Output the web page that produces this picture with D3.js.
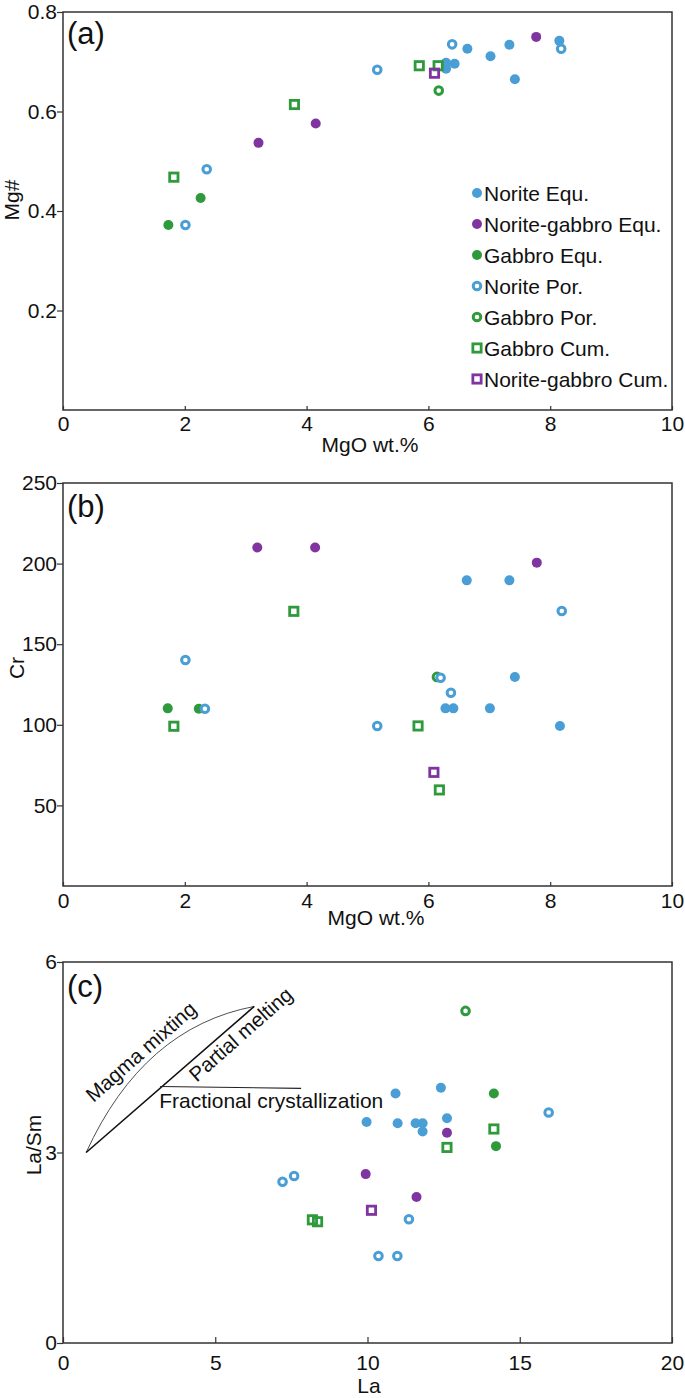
<!DOCTYPE html>
<html><head><meta charset="utf-8">
<script src="https://cdn.jsdelivr.net/npm/d3@7"></script>
<style>
body{margin:0;background:#fff}
svg{display:block}
text{font-family:"Liberation Sans",Arial,Helvetica,sans-serif;fill:#111}
</style>
</head><body>
<svg id="chart" width="685" height="1398"></svg>
<script>
// ---------- data ----------
const groupNames = ["Norite Equ.","Norite-gabbro Equ.","Gabbro Equ.","Norite Por.","Gabbro Por.","Gabbro Cum.","Norite-gabbro Cum."];
const groupKeys  = ["NE","NGE","GE","NP","GP","GC","NGC"];
const drawOrder  = ["GE","NGE","NE","GP","NP","GC","NGC"];

const mgoTicks  = [0,2,4,6,8,10];
const mgTicks   = [0.2,0.4,0.6,0.8];
const crTicks   = [50,100,150,200,250];
const laTicks   = [0,5,10,15,20];
const laSmTicks = [0,3,6];

// (a) MgO wt.% vs Mg#
const panelA = [
  ["NE",6.29,0.698],["NE",6.29,0.686],["NE",6.43,0.696],["NE",6.64,0.726],["NE",7.02,0.711],
  ["NE",7.33,0.734],["NE",7.42,0.665],["NE",8.15,0.742],
  ["NGE",3.21,0.537],["NGE",4.15,0.576],["NGE",7.77,0.750],
  ["GE",1.73,0.372],["GE",2.26,0.426],
  ["NP",2.01,0.372],["NP",2.36,0.484],["NP",5.16,0.684],["NP",6.39,0.735],["NP",8.18,0.726],
  ["GP",6.17,0.642],
  ["GC",1.82,0.468],["GC",3.80,0.614],["GC",5.85,0.692],["GC",6.16,0.692],
  ["NGC",6.10,0.677]
];
// (b) MgO wt.% vs Cr
const panelB = [
  ["NE",6.63,189.6],["NE",7.33,189.6],["NE",7.42,129.7],["NE",6.28,110.2],["NE",6.41,110.2],
  ["NE",7.01,110.2],["NE",8.16,99.3],
  ["NGE",3.19,210],["NGE",4.14,210],["NGE",7.78,200.6],
  ["GE",1.72,110.2],["GE",2.23,110.0],
  ["NP",2.01,140.2],["NP",2.33,110.0],["NP",5.16,99.3],["NP",6.20,129.2],["NP",6.37,119.9],["NP",8.19,170.6],
  ["GP",6.14,129.7],
  ["GC",1.82,99.1],["GC",3.79,170.4],["GC",5.83,99.3],["GC",6.18,59.6],
  ["NGC",6.09,70.5]
];
// (c) La vs La/Sm
const panelC = [
  ["NE",12.41,4.02],["NE",10.92,3.93],["NE",9.97,3.48],["NE",10.99,3.46],["NE",11.58,3.46],
  ["NE",11.81,3.46],["NE",11.81,3.33],["NE",12.61,3.54],
  ["NGE",12.61,3.31],["NGE",9.94,2.66],["NGE",11.61,2.30],
  ["GE",14.15,3.93],["GE",14.22,3.10],
  ["NP",15.95,3.63],["NP",7.21,2.54],["NP",7.59,2.63],["NP",11.36,1.95],["NP",10.36,1.37],["NP",10.98,1.37],
  ["GP",13.22,5.23],
  ["GC",14.15,3.37],["GC",12.61,3.08],["GC",8.19,1.94],["GC",8.36,1.91],
  ["NGC",10.13,2.09]
];
// (c) trend annotations in data units (La, La/Sm)
const mixingCurve = [[0.76,3.0],[2.64,4.97],[6.28,5.30]]; // start, control, end
const meltingLine = [[0.76,3.0],[6.28,5.30]];
const fractLine   = [[3.19,4.04],[7.82,4.01]];
const trendLabels = [
  {text:"Magma mixting", at:[1.00,3.78], angle:-41.4},
  {text:"Partial melting", at:[4.39,4.10], angle:-41.5},
  {text:"Fractional crystallization", at:[3.16,3.70], angle:0}
];

// ---------- styles ----------
const style = {
  NE:{color:"#4A9ED6",shape:"dot"},
  NGE:{color:"#8034A0",shape:"dot"},
  GE:{color:"#2E9A3C",shape:"dot"},
  NP:{color:"#4A9ED6",shape:"ring"},
  GP:{color:"#2E9A3C",shape:"ring"},
  GC:{color:"#2E9A3C",shape:"square"},
  NGC:{color:"#8034A0",shape:"square"}
};
const axisColor = "#333";
const L = 63, R = 672;
const svg = d3.select("#chart");

function drawMarker(g, key, cx, cy){
  const s = style[key];
  if (s.shape === "dot") {
    g.append("circle").attr("cx",cx).attr("cy",cy).attr("r",5).attr("fill",s.color);
  } else if (s.shape === "ring") {
    g.append("circle").attr("cx",cx).attr("cy",cy).attr("r",3.8)
      .attr("fill","#fff").attr("stroke",s.color).attr("stroke-width",3);
  } else {
    const a = 8.3;
    g.append("rect").attr("x",cx-a/2).attr("y",cy-a/2).attr("width",a).attr("height",a)
      .attr("fill","none").attr("stroke",s.color).attr("stroke-width",2.8);
  }
}

function panel(cfg){
  const x = d3.scaleLinear().domain(cfg.xDomain).range([L,R]);
  const y = d3.scaleLinear().domain(cfg.yDomain).range([cfg.bottom,cfg.top]);
  const g = svg.append("g");

  // x axis (ticks inward)
  const xa = g.append("g").attr("transform",`translate(0,${cfg.bottom})`)
    .call(d3.axisBottom(x).tickValues(cfg.xTicks).tickSize(-cfg.xTickLen).tickSizeOuter(0)
      .tickPadding(cfg.xPad).tickFormat(d3.format("d")));
  xa.select(".domain").remove();
  xa.selectAll("line").attr("stroke",axisColor).attr("stroke-width",1.2);
  xa.selectAll("text").attr("font-size",21).attr("fill","#111")
    .attr("font-family",'"Liberation Sans",Arial,sans-serif');

  // y axis (ticks outward)
  const ya = g.append("g").attr("transform",`translate(${L},0)`)
    .call(d3.axisLeft(y).tickValues(cfg.yTicks).tickSize(6).tickSizeOuter(0)
      .tickPadding(0).tickFormat(cfg.yFormat));
  ya.select(".domain").remove();
  ya.selectAll("line").attr("stroke",axisColor).attr("stroke-width",1.2);
  ya.selectAll("text").attr("font-size",21).attr("fill","#111")
    .attr("font-family",'"Liberation Sans",Arial,sans-serif');

  // frame
  g.append("rect").attr("x",L).attr("y",cfg.top).attr("width",R-L).attr("height",cfg.bottom-cfg.top)
    .attr("fill","none").attr("stroke",axisColor).attr("stroke-width",1.5);

  // labels
  g.append("text").attr("x",67).attr("y",cfg.top+cfg.tagOff).attr("font-size",31).text(cfg.tag);
  g.append("text").attr("x",cfg.xLabelX).attr("y",cfg.xLabelY).attr("text-anchor","middle")
    .attr("font-size",21).text(cfg.xLabel);
  g.append("text").attr("transform",`translate(${cfg.yLabelX},${cfg.yLabelY}) rotate(-90)`)
    .attr("text-anchor","middle").attr("font-size",21).text(cfg.yLabel);

  // points
  const pg = g.append("g");
  drawOrder.forEach(k=>{
    cfg.data.filter(d=>d[0]===k).forEach(d=>drawMarker(pg,k,x(d[1]),y(d[2])));
  });
  return {g,x,y};
}

// (a)
const pa = panel({top:12,bottom:410,xDomain:[0,10],yDomain:[0,0.8],xTicks:mgoTicks,yTicks:mgTicks,
  yFormat:d3.format(".1f"),xTickLen:4,xPad:6,tag:"(a)",tagOff:32,
  xLabel:"MgO wt.%",xLabelX:370,xLabelY:452,yLabel:"Mg#",yLabelX:19,yLabelY:200,data:panelA});

// legend
const lg = pa.g.append("g");
groupKeys.forEach((k,i)=>{
  const cy = 193 + i*31;
  drawMarker(lg,k,477,cy);
  lg.append("text").attr("x",484).attr("y",cy+7.5).attr("font-size",21).text(groupNames[i]);
});

// (b)
panel({top:483,bottom:886,xDomain:[0,10],yDomain:[0,250],xTicks:mgoTicks,yTicks:crTicks,
  yFormat:d3.format("d"),xTickLen:4,xPad:7,tag:"(b)",tagOff:34,
  xLabel:"MgO wt.%",xLabelX:376,xLabelY:925,yLabel:"Cr",yLabelX:24,yLabelY:668,data:panelB});

// (c)
const pc = panel({top:962,bottom:1343,xDomain:[0,20],yDomain:[0,6],xTicks:laTicks,yTicks:laSmTicks,
  yFormat:d3.format("d"),xTickLen:6,xPad:12,tag:"(c)",tagOff:35,
  xLabel:"La",xLabelX:369,xLabelY:1393,yLabel:"La/Sm",yLabelX:41,yLabelY:1145,data:panelC});

// trend annotations
const ag = pc.g.append("g");
const mp = d3.path();
mp.moveTo(pc.x(mixingCurve[0][0]),pc.y(mixingCurve[0][1]));
mp.quadraticCurveTo(pc.x(mixingCurve[1][0]),pc.y(mixingCurve[1][1]),pc.x(mixingCurve[2][0]),pc.y(mixingCurve[2][1]));
ag.append("path").attr("d",mp.toString()).attr("fill","none").attr("stroke","#222").attr("stroke-width",0.8);
const line = d3.line().x(d=>pc.x(d[0])).y(d=>pc.y(d[1]));
ag.append("path").attr("d",line(meltingLine)).attr("fill","none").attr("stroke","#111").attr("stroke-width",1.6);
ag.append("path").attr("d",line(fractLine)).attr("fill","none").attr("stroke","#222").attr("stroke-width",1.1);
trendLabels.forEach(t=>{
  ag.append("text").attr("transform",`translate(${pc.x(t.at[0])},${pc.y(t.at[1])}) rotate(${t.angle})`)
    .attr("font-size",t.angle===0?21:20.5).text(t.text);
});
</script>
</body></html>
